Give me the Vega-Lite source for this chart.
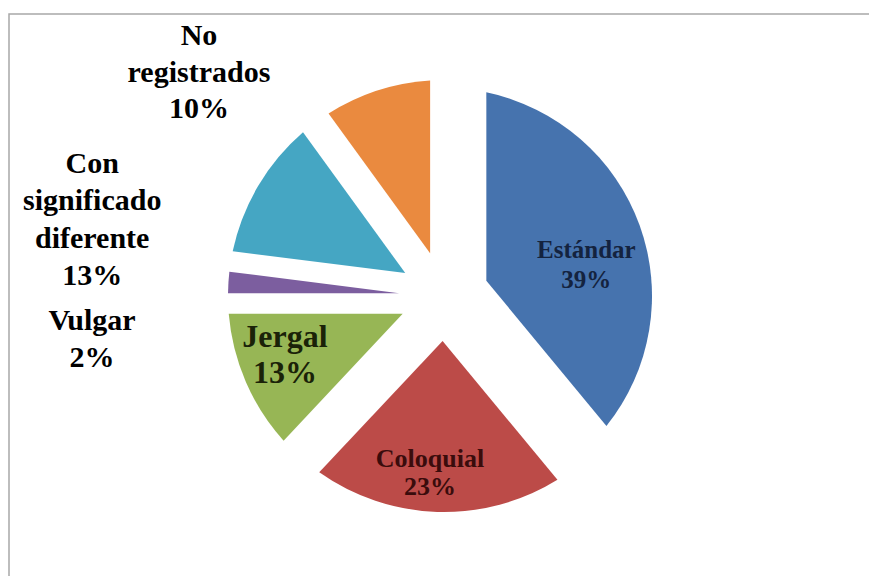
{
  "$schema": "https://vega.github.io/schema/vega-lite/v6.json",
  "width": 870,
  "height": 564,
  "padding": {"left": 9, "top": 14, "right": -10, "bottom": -2},
  "background": "white",
  "view": {"stroke": "#a8a8a8", "strokeWidth": 1.5},
  "data": {
    "values": [
      {"cat": "Estándar", "value": 39, "order": 0},
      {"cat": "Coloquial", "value": 23, "order": 1},
      {"cat": "Jergal", "value": 13, "order": 2},
      {"cat": "Vulgar", "value": 2, "order": 3},
      {"cat": "Con significado diferente", "value": 13, "order": 4},
      {"cat": "No registrados", "value": 10, "order": 5}
    ]
  },
  "transform": [{"calculate": "datum.cat + ' ' + datum.value + '%'", "as": "label"}],
  "encoding": {
    "theta": {"field": "value", "type": "quantitative", "stack": true},
    "order": {"field": "order", "type": "quantitative", "sort": "ascending"}
  },
  "layer": [
    {
      "mark": {
        "type": "arc",
        "innerRadius": 45,
        "outerRadius": {"expr": "datum.order == 0 ? 208 : 216"},
        "padAngle": {"expr": "2*asin(45*sin(PI*datum.value/100)/sqrt(45*45 + (datum.order == 0 ? 208*208 : 216*216)))"}
      },
      "encoding": {
        "color": {
          "field": "cat",
          "type": "nominal",
          "scale": {
            "domain": ["Estándar", "Coloquial", "Jergal", "Vulgar", "Con significado diferente", "No registrados"],
            "range": ["#4673AE", "#BC4B48", "#97B655", "#7C5E9F", "#45A6C3", "#EA8A3F"]
          },
          "legend": null
        }
      }
    },
    {
      "mark": {
        "type": "text",
        "font": "Liberation Serif",
        "fontWeight": "bold",
        "align": "center",
        "baseline": "middle",
        "lineBreak": " ",
        "radius": {"expr": "[146,176,169,260,260,260][datum.order]"},
        "dx": {"expr": "[5,-8.5,-4,-92.5,-128,-164.7][datum.order]"},
        "dy": {"expr": "[3,-12.7,-25.7,41.3,0.3,-12.7][datum.order]"},
        "fontSize": {"expr": "[25,26,32,30,30,30][datum.order]"},
        "lineHeight": {"expr": "[30,28,36,37,37.3,36.5][datum.order]"},
        "fill": {"expr": "['#14233f','#3a0c0c','#1a2208','#000000','#000000','#000000'][datum.order]"}
      },
      "encoding": {"text": {"field": "label", "type": "nominal"}}
    }
  ]
}
